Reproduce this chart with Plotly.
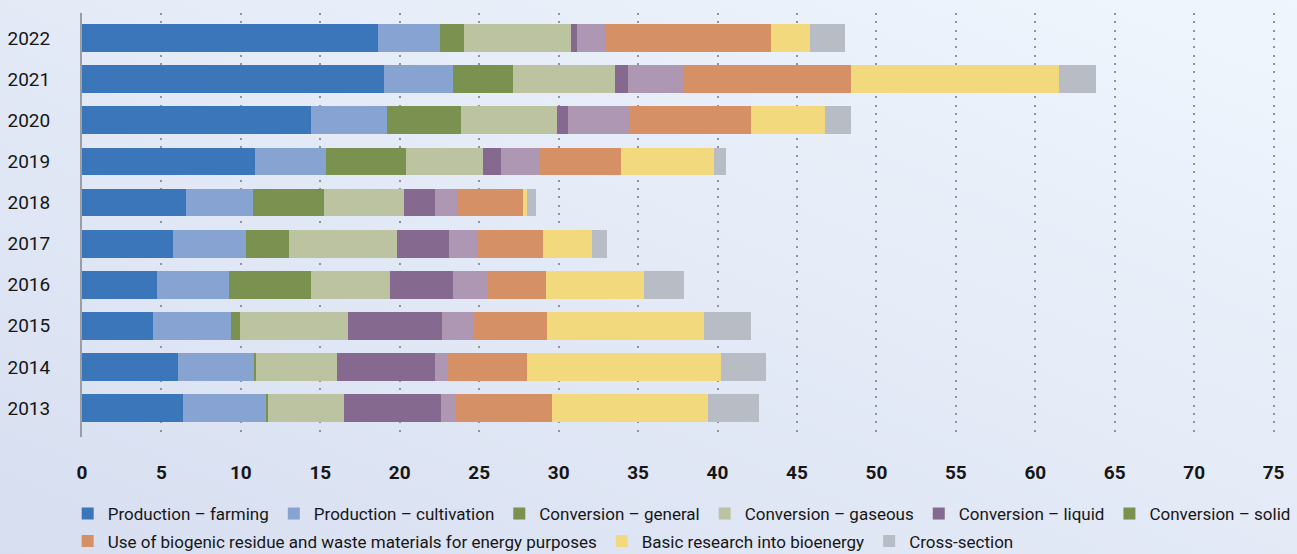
import base64
import plotly.graph_objects as go

# Funding per year (values in EUR million), stacked by funding area
years = ["2013", "2014", "2015", "2016", "2017", "2018", "2019", "2020", "2021", "2022"]
farming = [6.37, 6.05, 4.48, 4.73, 5.74, 6.56, 10.90, 14.43, 19.02, 18.65]
cultivation = [5.22, 4.79, 4.91, 4.53, 4.59, 4.22, 4.47, 4.78, 4.35, 3.90]
conv_general = [0.10, 0.10, 0.57, 5.17, 2.71, 4.46, 5.04, 4.66, 3.77, 1.51]
conv_gaseous = [4.82, 5.12, 6.80, 4.97, 6.80, 5.04, 4.85, 6.05, 6.43, 6.74]
conv_liquid = [6.10, 6.17, 5.91, 3.97, 3.28, 1.95, 1.13, 0.69, 0.82, 0.37]
conv_solid = [0.94, 0.76, 1.98, 2.20, 1.78, 1.39, 2.46, 3.86, 3.48, 1.83]
residue = [6.05, 5.04, 4.64, 3.65, 4.14, 4.16, 5.10, 7.66, 10.50, 10.39]
basic_research = [9.82, 12.21, 9.88, 6.18, 3.08, 0.25, 5.85, 4.66, 13.10, 2.40]
cross_section = [3.22, 2.84, 2.96, 2.52, 0.95, 0.56, 0.76, 1.64, 2.33, 2.26]

x_ticks = list(range(0, 80, 5))

FONT = "Roboto, 'Noto Sans', sans-serif"
TEXT = "#161616"

# (name, values, bar colour, legend swatch colour, legend row)
series = [
    ("Production – farming", farming, "#3b76bb", "#3b76bb", "legend"),
    ("Production – cultivation", cultivation, "#87a3d2", "#87a3d2", "legend"),
    ("Conversion – general", conv_general, "#7a9150", "#7a9150", "legend"),
    ("Conversion – gaseous", conv_gaseous, "#bcc3a0", "#bcc3a0", "legend"),
    ("Conversion – liquid", conv_liquid, "#85698f", "#85698f", "legend"),
    ("Conversion – solid", conv_solid, "#ad97b2", "#7a9150", "legend"),
    ("Use of biogenic residue and waste materials for energy purposes", residue,
     "#d59066", "#d59066", "legend2"),
    ("Basic research into bioenergy", basic_research, "#f2d97e", "#f2d97e", "legend2"),
    ("Cross-section", cross_section, "#b8bcc4", "#b8bcc4", "legend2"),
]

fig = go.Figure()
for rank, (name, vals, bar_col, key_col, leg) in enumerate(series, start=1):
    same = bar_col == key_col
    fig.add_trace(go.Bar(
        y=years, x=vals, name=name, orientation="h",
        marker=dict(color=bar_col, line=dict(width=0)),
        showlegend=same, legend=leg, legendrank=rank,
        hovertemplate="%{y}: %{x}<extra>" + name + "</extra>",
    ))
    if not same:
        # legend entry with its own key colour
        fig.add_trace(go.Bar(
            y=[None], x=[None], name=name, orientation="h",
            marker=dict(color=key_col, line=dict(width=0)),
            showlegend=True, legend=leg, legendrank=rank, hoverinfo="skip",
        ))

# soft diagonal background gradient
W, H = 1297, 554
L, R, T, B = 82, 21, 13, 117
svg = (
    f'<svg xmlns="http://www.w3.org/2000/svg" width="{W}" height="{H}" '
    f'preserveAspectRatio="none" viewBox="0 0 {W} {H}">'
    '<defs><linearGradient id="g" x1="0" y1="1" x2="1" y2="0">'
    '<stop offset="0" stop-color="#d7def0"/>'
    '<stop offset="1" stop-color="#f0f6fd"/>'
    '</linearGradient></defs>'
    f'<rect width="{W}" height="{H}" fill="url(#g)"/></svg>'
)
bg_src = "data:image/svg+xml;base64," + base64.b64encode(svg.encode()).decode()
pw, ph = W - L - R, H - T - B

legend_style = dict(
    orientation="h", xanchor="left", yanchor="middle", x=-0.012,
    bgcolor="rgba(0,0,0,0)", font=dict(family=FONT, size=17, color=TEXT),
    traceorder="normal", itemclick=False, itemdoubleclick=False,
)

fig.update_layout(
    width=W, height=H,
    margin=dict(l=L, r=R, t=T, b=B, pad=0, autoexpand=False),
    barmode="stack", bargap=0.324,
    paper_bgcolor="#e6edf8", plot_bgcolor="rgba(0,0,0,0)",
    font=dict(family=FONT, color=TEXT),
    images=[dict(
        source=bg_src, xref="paper", yref="paper",
        x=-L / pw, y=1 + T / ph, sizex=W / pw, sizey=H / ph,
        xanchor="left", yanchor="top", sizing="stretch", layer="below",
    )],
    xaxis=dict(
        range=[0, 75.15], tickvals=x_ticks, ticktext=[str(v) for v in x_ticks],
        showgrid=True, gridcolor="#8e939c", gridwidth=2, griddash="2px,6.33px",
        zeroline=False, showline=False, ticks="",
        tickfont=dict(family=FONT, size=19, color=TEXT, weight="bold"),
        ticklabelstandoff=22, fixedrange=True,
    ),
    yaxis=dict(
        type="category", range=[-0.705, 9.611],
        showgrid=False, zeroline=False,
        showline=True, linecolor="#9a9ea6", linewidth=2,
        ticks="", tickfont=dict(family=FONT, size=19, color=TEXT),
        ticklabelstandoff=26, fixedrange=True,
    ),
    legend=dict(legend_style, y=-(514 - (H - B)) / ph),
    legend2=dict(legend_style, y=-(541.5 - (H - B)) / ph),
)

fig.write_html("out.html")
